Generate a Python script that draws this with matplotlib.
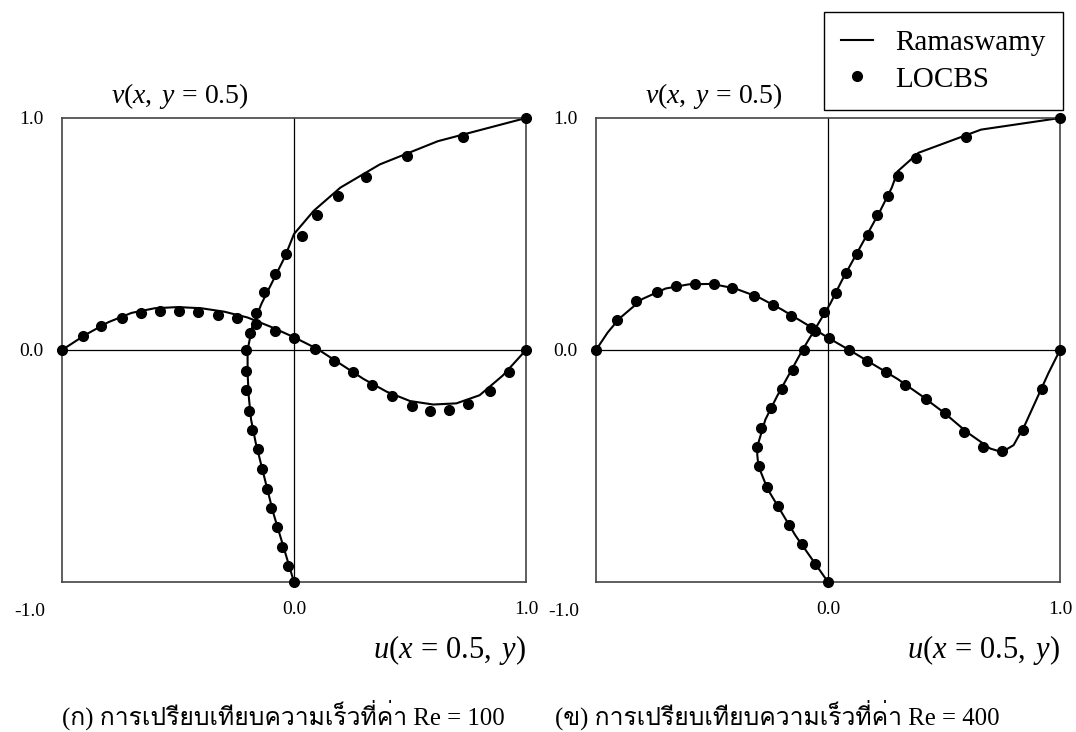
import numpy as np
import matplotlib.pyplot as plt
from matplotlib import font_manager
from matplotlib.ft2font import FT2Font

# Re = 100, LOCBS points: u on the vertical centreline, v on the horizontal one
u100_dots = [0.0, -0.024, -0.050, -0.073, -0.099, -0.115, -0.140, -0.157, -0.181, -0.196, -0.205, -0.205, -0.205,
             -0.189, -0.164, -0.131, -0.081, -0.033, 0.033, 0.097, 0.188, 0.310, 0.489, 0.727, 1.0]
y100_dots = [-1.0, -0.932, -0.850, -0.761, -0.680, -0.597, -0.514, -0.425, -0.343, -0.261, -0.172, -0.091, 0.0,
             0.074, 0.158, 0.248, 0.329, 0.413, 0.491, 0.583, 0.664, 0.746, 0.836, 0.917, 1.0]
x100_dots = [-1.0, -0.910, -0.830, -0.740, -0.660, -0.577, -0.497, -0.414, -0.326, -0.246, -0.164, -0.081, 0.0,
             0.091, 0.172, 0.253, 0.336, 0.424, 0.507, 0.588, 0.668, 0.750, 0.843, 0.925, 1.0]
v100_dots = [0.0, 0.060, 0.104, 0.139, 0.161, 0.170, 0.170, 0.164, 0.153, 0.137, 0.113, 0.083, 0.050,
             0.005, -0.046, -0.096, -0.151, -0.200, -0.241, -0.265, -0.257, -0.232, -0.177, -0.096, 0.0]

# Re = 100, Ramaswamy curves
u100_line = [0.0, -0.03, -0.06, -0.09, -0.115, -0.14, -0.165, -0.185, -0.195, -0.20, -0.20,
             -0.18, -0.14, -0.09, -0.04, 0.0, 0.085, 0.20, 0.37, 0.62, 1.0]
y100_line = [-1.0, -0.9, -0.8, -0.7, -0.6, -0.5, -0.4, -0.3, -0.2, -0.1, 0.0,
             0.1, 0.2, 0.3, 0.4, 0.5, 0.6, 0.7, 0.8, 0.9, 1.0]
x100_line = [-1.0, -0.9, -0.8, -0.7, -0.6, -0.5, -0.4, -0.3, -0.2, -0.1, 0.0,
             0.1, 0.2, 0.3, 0.4, 0.5, 0.6, 0.7, 0.8, 0.9, 1.0]
v100_line = [0.0, 0.065, 0.12, 0.16, 0.18, 0.185, 0.18, 0.165, 0.14, 0.10, 0.055,
             0.005, -0.06, -0.125, -0.18, -0.22, -0.235, -0.23, -0.195, -0.11, 0.0]

# Re = 400, LOCBS points
u400_dots = [0.0, -0.055, -0.110, -0.166, -0.215, -0.264, -0.298, -0.305, -0.289, -0.246, -0.197, -0.150, -0.104,
             -0.056, -0.019, 0.035, 0.076, 0.124, 0.172, 0.213, 0.260, 0.300, 0.380, 0.593, 1.0]
y400_dots = [-1.0, -0.922, -0.835, -0.754, -0.672, -0.590, -0.500, -0.419, -0.337, -0.249, -0.168, -0.087, 0.0,
             0.083, 0.165, 0.245, 0.332, 0.415, 0.496, 0.584, 0.665, 0.749, 0.829, 0.919, 1.0]
x400_dots = [-1.0, -0.908, -0.827, -0.738, -0.656, -0.574, -0.493, -0.412, -0.319, -0.238, -0.158, -0.075, 0.003,
             0.089, 0.170, 0.252, 0.333, 0.422, 0.504, 0.585, 0.668, 0.748, 0.840, 0.921, 1.0]
v400_dots = [0.0, 0.130, 0.211, 0.251, 0.277, 0.285, 0.285, 0.266, 0.234, 0.194, 0.145, 0.095, 0.050,
             0.0, -0.047, -0.096, -0.151, -0.210, -0.273, -0.354, -0.419, -0.435, -0.345, -0.168, 0.0]

# Re = 400, Ramaswamy curves
u400_line = [0.0, -0.07, -0.14, -0.20, -0.26, -0.30, -0.305, -0.30, -0.27, -0.22, -0.165, -0.11,
             -0.05, 0.01, 0.06, 0.115, 0.17, 0.225, 0.275, 0.30, 0.39, 0.66, 1.0]
y400_line = [-1.0, -0.9, -0.8, -0.7, -0.6, -0.5, -0.45, -0.4, -0.3, -0.2, -0.1, 0.0,
             0.1, 0.2, 0.3, 0.4, 0.5, 0.6, 0.7, 0.77, 0.85, 0.95, 1.0]
x400_line = [-1.0, -0.95, -0.9, -0.8, -0.7, -0.6, -0.5, -0.4, -0.3, -0.2, -0.1, 0.0, 0.1,
             0.2, 0.3, 0.4, 0.5, 0.6, 0.7, 0.75, 0.8, 0.85, 0.9, 0.95, 1.0]
v400_line = [0.0, 0.075, 0.135, 0.22, 0.265, 0.283, 0.285, 0.265, 0.228, 0.175, 0.115, 0.053, -0.005,
             -0.065, -0.125, -0.195, -0.27, -0.355, -0.425, -0.44, -0.41, -0.32, -0.21, -0.10, 0.0]

captions = ['(ก) การเปรียบเทียบความเร็วที่ค่า Re = 100',
            '(ข) การเปรียบเทียบความเร็วที่ค่า Re = 400']


def find_thai_font():
    # first installed font that has Thai glyphs
    for f in font_manager.fontManager.ttflist:
        try:
            if 0x0E01 in FT2Font(f.fname).get_charmap():
                return f.name
        except Exception:
            pass
    return 'DejaVu Sans'


serif = 'Liberation Serif'
plt.rcParams['font.family'] = [serif, 'DejaVu Serif']
plt.rcParams['mathtext.fontset'] = 'custom'
plt.rcParams['mathtext.rm'] = serif
plt.rcParams['mathtext.it'] = serif + ':italic'

fig = plt.figure(figsize=(10.76, 7.32), dpi=100)
W, H = 1076, 732
ax1 = fig.add_axes([62 / W, 1 - 582 / H, 464 / W, 464 / H])
ax2 = fig.add_axes([596 / W, 1 - 582 / H, 464 / W, 464 / H])

panels = [
    (ax1, u100_line, y100_line, x100_line, v100_line, u100_dots, y100_dots, x100_dots, v100_dots),
    (ax2, u400_line, y400_line, x400_line, v400_line, u400_dots, y400_dots, x400_dots, v400_dots),
]

for ax, ul, yl, xl, vl, ud, yd, xd, vd in panels:
    ax.set_xlim(-1, 1)
    ax.set_ylim(-1, 1)
    ax.axhline(0, color='black', lw=0.9, zorder=1)
    ax.axvline(0, color='black', lw=0.9, zorder=1)
    ax.plot(ul, yl, color='black', lw=1.5, zorder=2, clip_on=False)
    ax.plot(xl, vl, color='black', lw=1.5, zorder=2, clip_on=False)
    ax.plot(ud, yd, 'o', color='black', ms=7, zorder=3, clip_on=False)
    ax.plot(xd, vd, 'o', color='black', ms=7, zorder=3, clip_on=False)
    for s in ax.spines.values():
        s.set_color('#444444')
        s.set_linewidth(1.2)
    ax.set_yticks([0, 1])
    ax.set_yticklabels(['0.0', '1.0'])
    ax.set_xticks([0, 1])
    ax.set_xticklabels(['0.0', '1.0'])
    ax.tick_params(length=0, labelsize=14)
    ax.tick_params(axis='x', pad=14)
    ax.tick_params(axis='y', pad=13)
    ax.annotate('-1.0', xy=(0, 0), xycoords='axes fraction', xytext=(-12, -21.5),
                textcoords='offset points', ha='right', va='center', fontsize=14)
    ax.annotate(r'$v(x,\; y\,=\,0.5)$', xy=(0, 1), xycoords='axes fraction', xytext=(35, 16),
                textcoords='offset points', ha='left', va='center', fontsize=20)
    ax.annotate(r'$u(x\,=\,0.5,\; y)$', xy=(1, 0), xycoords='axes fraction', xytext=(0, -49),
                textcoords='offset points', ha='right', va='center', fontsize=22)

thai = find_thai_font()
fig.text(62 / W, 1 - 715 / H, captions[0], family=[serif, thai], fontsize=17.8, ha='left', va='center')
fig.text(555 / W, 1 - 715 / H, captions[1], family=[serif, thai], fontsize=17.8, ha='left', va='center')

# legend proxies
h_line, = ax2.plot([], [], color='black', lw=1.5)
h_dot, = ax2.plot([], [], 'o', color='black', ms=7)
leg = fig.legend([h_line, h_dot], ['Ramaswamy', 'LOCBS'], loc='upper right',
                 bbox_to_anchor=(1063 / W, 1 - 12 / H), fontsize=21, fancybox=False,
                 edgecolor='black', framealpha=1, handlelength=1.1, labelspacing=0.35,
                 borderpad=0.6, handletextpad=0.75, borderaxespad=0)
leg.get_frame().set_linewidth(1.0)

fig.savefig('out.png', dpi=100)
